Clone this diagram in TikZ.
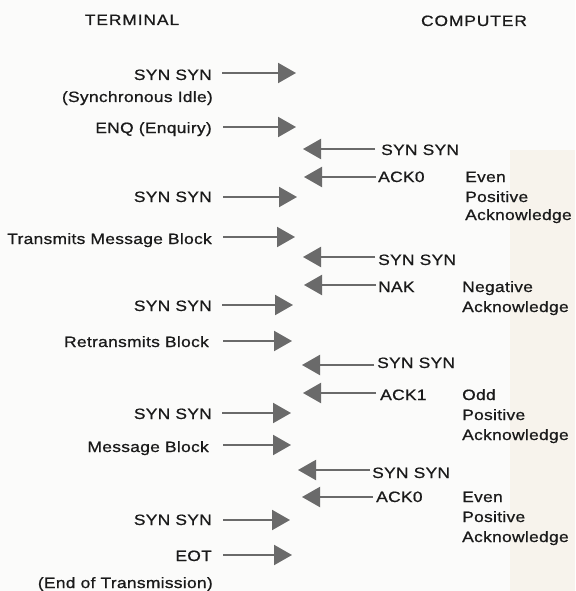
\documentclass[tikz,border=0pt]{standalone}
\usepackage{fontspec}
\setmainfont{Liberation Sans}[FakeStretch=1.16,LetterSpace=2,FakeBold=0.8]
\newfontfamily\headfont{Liberation Sans}[FakeStretch=1.16,LetterSpace=6,FakeBold=0.8]
\usetikzlibrary{arrows.meta}
\definecolor{ink}{HTML}{1A1A1A}
\definecolor{arrowgray}{HTML}{6A6A6A}
\definecolor{paper}{HTML}{FBFBFA}
\definecolor{beige}{HTML}{F7F3EC}
\begin{document}
\begin{tikzpicture}[x=1pt,y=-1pt,
  lbl/.style={inner sep=0pt, text=ink, font=\fontsize{15}{18}\selectfont},
  head/.style={inner sep=0pt, text=ink, font=\fontsize{15}{18}\selectfont\headfont},
  tl/.style={lbl, anchor=base east},
  cl/.style={lbl, anchor=base west},
  sendarrow/.style={draw=arrowgray, line width=2pt, -{Triangle[length=18pt,width=20pt]}},
]
\fill[paper] (0,0) rectangle (575,591);
\useasboundingbox (0,0) rectangle (575,591);
\fill[beige] (510,150) rectangle (575,591);

% headings
\node[head, anchor=base] (hterm) at (132,25) {TERMINAL};
\node[head, anchor=base] (hcomp) at (474,26) {COMPUTER};

% terminal side labels
\node[tl] (t1)  at (212,80)  {SYN SYN};
\node[tl] (t1b) at (213,102) {(Synchronous Idle)};
\node[tl] (t2)  at (212,133) {ENQ (Enquiry)};
\node[tl] (t3)  at (212,202) {SYN SYN};
\node[tl] (t4)  at (212,244) {Transmits Message Block};
\node[tl] (t5)  at (212,311) {SYN SYN};
\node[tl] (t6)  at (209,347) {Retransmits Block};
\node[tl] (t7)  at (212,419) {SYN SYN};
\node[tl] (t8)  at (209,452) {Message Block};
\node[tl] (t9)  at (212,525) {SYN SYN};
\node[tl] (t10) at (212,561) {EOT};
\node[tl] (t10b) at (213,588) {(End of Transmission)};

% computer side labels
\node[cl] (c1)  at (381,155) {SYN SYN};
\node[cl] (c2)  at (378,182) {ACK0};
\node[cl] (c2a) at (465,182) {Even};
\node[cl] (c2b) at (465,202) {Positive};
\node[cl] (c2c) at (465,220) {Acknowledge};
\node[cl] (c3)  at (378,265) {SYN SYN};
\node[cl] (c4)  at (378,292) {NAK};
\node[cl] (c4a) at (462,292) {Negative};
\node[cl] (c4b) at (462,312) {Acknowledge};
\node[cl] (c5)  at (377,368) {SYN SYN};
\node[cl] (c6)  at (380,400) {ACK1};
\node[cl] (c6a) at (462,400) {Odd};
\node[cl] (c6b) at (462,420) {Positive};
\node[cl] (c6c) at (462,440) {Acknowledge};
\node[cl] (c7)  at (372,478) {SYN SYN};
\node[cl] (c8)  at (376,502) {ACK0};
\node[cl] (c8a) at (462,502) {Even};
\node[cl] (c8b) at (462,522) {Positive};
\node[cl] (c8c) at (462,542) {Acknowledge};

% terminal -> computer arrows
\coordinate (r1s) at (222,73);  \coordinate (r1e) at (296,73);
\coordinate (r2s) at (223,127); \coordinate (r2e) at (296,127);
\coordinate (r3s) at (223,197); \coordinate (r3e) at (297,197);
\coordinate (r4s) at (223,237); \coordinate (r4e) at (295,237);
\coordinate (r5s) at (222,305); \coordinate (r5e) at (293,305);
\coordinate (r6s) at (223,341); \coordinate (r6e) at (292,341);
\coordinate (r7s) at (222,413); \coordinate (r7e) at (291,413);
\coordinate (r8s) at (223,445); \coordinate (r8e) at (291,445);
\coordinate (r9s) at (223,520); \coordinate (r9e) at (290,520);
\coordinate (r10s) at (223,555); \coordinate (r10e) at (292,555);
\foreach \i in {1,...,10} {\draw[sendarrow] (r\i s) -- (r\i e);}

% computer -> terminal arrows
\coordinate (l1s) at (375,149); \coordinate (l1e) at (303,149);
\coordinate (l2s) at (376,177); \coordinate (l2e) at (304,177);
\coordinate (l3s) at (375,257); \coordinate (l3e) at (303,257);
\coordinate (l4s) at (376,285); \coordinate (l4e) at (304,285);
\coordinate (l5s) at (374,365); \coordinate (l5e) at (302,365);
\coordinate (l6s) at (376,393); \coordinate (l6e) at (303,393);
\coordinate (l7s) at (370,470); \coordinate (l7e) at (298,470);
\coordinate (l8s) at (373,497); \coordinate (l8e) at (302,497);
\foreach \i in {1,...,8} {\draw[sendarrow] (l\i s) -- (l\i e);}
\end{tikzpicture}
\end{document}
